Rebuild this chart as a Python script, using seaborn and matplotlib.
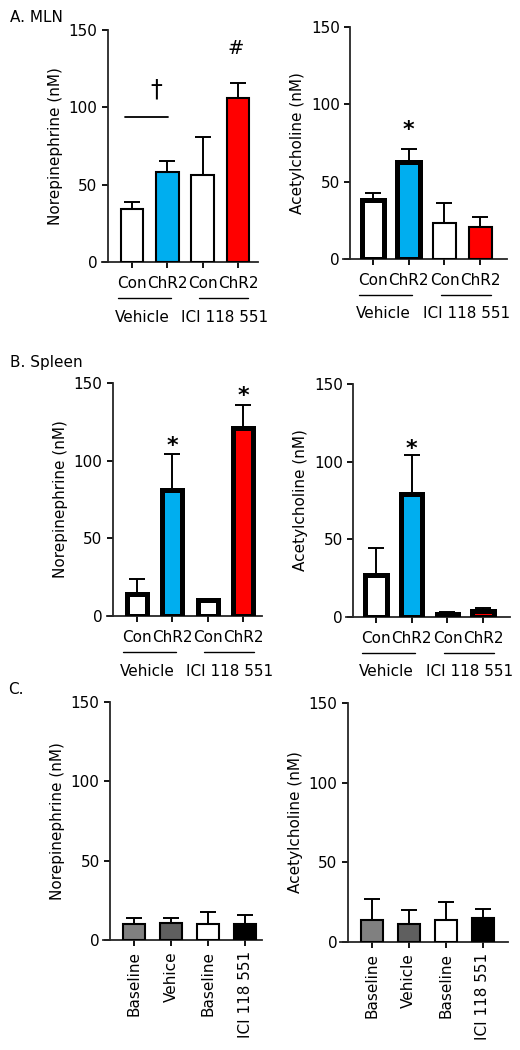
import numpy as np
import pandas as pd
import seaborn as sns
import matplotlib.pyplot as plt

W, H = 520, 1050

# tick / group labels
bar_labels = ["Con", "ChR2", "Con", "ChR2"]
groups = ["Vehicle", "ICI 118 551"]
c_labels_ne = ["Baseline", "Vehice", "Baseline", "ICI 118 551"]
c_labels_ach = ["Baseline", "Vehicle", "Baseline", "ICI 118 551"]

# means and upper error (nM)
mln_ne = [34, 58, 56, 106]
mln_ne_err = [5, 7, 25, 10]
mln_ach = [38, 63, 23, 21]
mln_ach_err = [4.5, 8, 13.5, 6]
spl_ne = [14, 81, 10, 121]
spl_ne_err = [10, 23, 1, 15]
spl_ach = [27, 79, 2, 4]
spl_ach_err = [17.5, 25, 1, 2]
c_ne = [10, 11, 10, 10]
c_ne_err = [4, 3, 7.5, 6]
c_ach = [14, 11, 14, 15]
c_ach_err = [13, 9, 11, 6]

colors_ab = ["white", "#00AEEF", "white", "#FF0000"]
colors_c = ["#808080", "#5F5F5F", "white", "black"]

sns.set_style("ticks")
plt.rcParams["font.family"] = ["DejaVu Sans"]
plt.rcParams["axes.linewidth"] = 1.3
plt.rcParams["text.color"] = "black"
plt.rcParams["axes.labelcolor"] = "black"

fig = plt.figure(figsize=(W / 100, H / 100), dpi=100)


def panel(box, xlim, spine_x, vals, errs, colors, lws, ylabel, ticklabels,
          width=0.64, rot=0):
    l, r, t, b = box
    ax = fig.add_axes([l / W, 1 - b / H, (r - l) / W, (b - t) / H])
    df = pd.DataFrame({"bar": [f"b{i}" for i in range(4)], "val": vals})
    sns.barplot(data=df, x="bar", y="val", hue="bar", palette=colors,
                legend=False, width=width, edgecolor="black", linewidth=1.5,
                saturation=1, ax=ax, zorder=3)
    for p, lw in zip(ax.patches, lws):
        p.set_linewidth(lw)
    ax.errorbar(range(4), vals, yerr=[np.zeros(4), errs], fmt="none",
                ecolor="black", elinewidth=1.4, capsize=5.5, capthick=1.4,
                zorder=2)
    ax.set_xlim(*xlim)
    ax.set_ylim(0, 150)
    ax.set_yticks([0, 50, 100, 150])
    ax.set_xticks(range(4))
    ax.set_xticklabels(ticklabels, rotation=rot)
    sns.despine(ax=ax)
    ax.spines["left"].set_position(("data", spine_x))
    ax.tick_params(axis="both", length=4, width=1.3, labelsize=11,
                   colors="black")
    ax.tick_params(axis="x", pad=6 if rot == 0 else 4)
    ax.set_xlabel("")
    ax.set_ylabel(ylabel, fontsize=11, labelpad=4)
    return ax


def groups_under(ax, box):
    h = box[3] - box[2]
    tr = ax.get_xaxis_transform()
    for (x0, x1, xc), name in zip([(-0.4, 1.1, 0.3), (1.9, 3.3, 2.62)], groups):
        ax.plot([x0, x1], [-36 / h] * 2, transform=tr, color="black", lw=1,
                clip_on=False)
        ax.text(xc, -55 / h, name, transform=tr, ha="center", va="center",
                fontsize=11)


thin = [1.5] * 4
thick = [3.6] * 4

# A. MLN
box = (102, 258, 30, 262)
ax = panel(box, (-0.85, 3.57), -0.68, mln_ne, mln_ne_err, colors_ab, thin,
           "Norepinephrine (nM)", bar_labels)
groups_under(ax, box)
ax.plot([-0.2, 1.02], [93.5, 93.5], color="black", lw=1.3)
ax.text(0.7, 104, "\u2020", ha="center", va="bottom", fontsize=17)
ax.text(2.95, 132, "#", ha="center", va="bottom", fontsize=14)

box = (343, 507, 27, 259)
ax = panel(box, (-0.84, 3.75), -0.64, mln_ach, mln_ach_err, colors_ab,
           [3.6, 3.6, 1.5, 1.5], "Acetylcholine (nM)", bar_labels)
groups_under(ax, box)
ax.text(1, 77, "*", ha="center", va="bottom", fontsize=16, fontweight="bold")

# B. Spleen
box = (107, 262, 383, 616)
ax = panel(box, (-0.85, 3.54), -0.68, spl_ne, spl_ne_err, colors_ab, thick,
           "Norepinephrine (nM)", bar_labels, width=0.56)
groups_under(ax, box)
ax.text(1, 103, "*", ha="center", va="bottom", fontsize=16, fontweight="bold")
ax.text(3, 135, "*", ha="center", va="bottom", fontsize=16, fontweight="bold")

box = (346, 510, 384, 617)
ax = panel(box, (-0.84, 3.75), -0.64, spl_ach, spl_ach_err, colors_ab, thick,
           "Acetylcholine (nM)", bar_labels, width=0.6)
groups_under(ax, box)
ax.text(1, 102, "*", ha="center", va="bottom", fontsize=16, fontweight="bold")

# C.
box = (103, 262, 702, 940)
panel(box, (-0.84, 3.45), -0.65, c_ne, c_ne_err, colors_c, thin,
      "Norepinephrine (nM)", c_labels_ne, width=0.6, rot=90)

box = (340, 508, 703, 942)
panel(box, (-0.86, 3.68), -0.65, c_ach, c_ach_err, colors_c, thin,
      "Acetylcholine (nM)", c_labels_ach, width=0.6, rot=90)

fig.text(10 / W, 1 - 17 / H, "A. MLN", ha="left", va="center", fontsize=11)
fig.text(10 / W, 1 - 363 / H, "B. Spleen", ha="left", va="center", fontsize=11)
fig.text(8 / W, 1 - 690 / H, "C.", ha="left", va="center", fontsize=11)

fig.savefig("out.png", dpi=100)
